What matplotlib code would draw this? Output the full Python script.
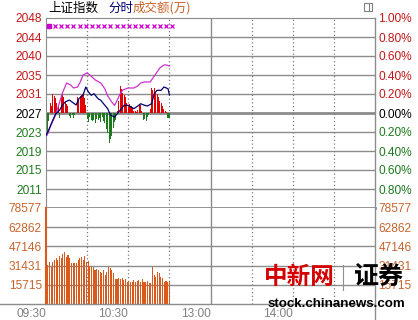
import numpy as np
import matplotlib
matplotlib.use("Agg")
import matplotlib.pyplot as plt
from matplotlib.lines import Line2D
from matplotlib.patches import Rectangle

plt.rcParams['font.family'] = ['Liberation Sans', 'Noto Sans CJK SC', 'DejaVu Sans']

# ---------------- data ----------------
base_close = 2027.4

price_minutes = [0, 2, 5, 7, 10, 12, 14, 17, 19, 22, 24, 27, 29, 31, 33, 35, 38, 40, 42, 45,
                 47, 50, 52, 55, 57, 60, 62, 64, 67, 69, 72, 74, 77, 79, 81, 84, 86, 89, 90]
price_values = [2022.64, 2023.77, 2025.91, 2027.19, 2028.04, 2029.11, 2029.75, 2030.17, 2029.75, 2029.11,
                2030.45, 2031.18, 2032.95, 2031.88, 2031.18, 2031.52, 2030.45, 2030.11, 2029.38, 2028.32,
                2026.97, 2026.55, 2027.25, 2028.32, 2029.04, 2029.04, 2028.68, 2028.32, 2028.89, 2029.38,
                2029.04, 2028.89, 2029.38, 2031.52, 2032.24, 2032.24, 2032.95, 2032.59, 2031.30]

avg_minutes = [1, 3, 7, 10, 12, 15, 18, 20, 23, 25, 27, 30, 32, 36, 40, 43, 45, 48, 50, 52,
               54, 56, 60, 64, 67, 69, 72, 76, 78, 81, 83, 86, 88, 90]
avg_values = [2022.71, 2024.41, 2026.97, 2029.75, 2031.67, 2033.80, 2033.38, 2032.74, 2032.95, 2034.02,
              2035.51, 2035.94, 2035.51, 2034.44, 2033.80, 2032.52, 2031.03, 2029.75, 2029.00, 2030.17,
              2031.45, 2032.31, 2032.74, 2032.74, 2033.16, 2033.80, 2034.02, 2034.02, 2034.87, 2036.15,
              2037.00, 2037.64, 2037.64, 2037.43]

# per-minute strength bars (index points, + red / - green), 09:30 .. 11:00
flow_values = [-4.5, -4.2, -1.7, 2.1, 1.5, 4.0, 3.6, 3.2, 2.1, 1.6,
               -1.0, 3.8, 4.0, 3.5, 2.4, 2.0, 1.5, -0.6, -1.0, -0.4,
               -1.1, -0.5, 0.0, 3.4, 2.9, 3.6, 3.8, 4.05, 3.3, 1.8,
               -1.2, -2.0, -0.9, -1.4, -1.8, -1.5, -2.1, -1.2, -1.6, -1.1,
               -2.0, -0.9, -1.7, -2.2, -3.4, -4.3, -6.4, -5.5, -4.9, -3.2,
               -2.0, -1.4, 0.4, 2.5, 5.76, 5.2, 4.3, 3.9, 3.5, 2.2,
               1.2, 1.9, 1.4, 1.0, 0.4, 0.5, 0.3, 0.6, 1.9, 1.7,
               0.5, -1.6, -1.3, -1.7, -0.8, -0.4, 0.8, 5.3, 5.0, 5.3,
               4.4, 4.0, 3.4, 2.6, 2.2, 1.5, 0.8, 0.4, 0.2, -1.0, -1.07]

volume_values = [72000, 31900, 34400, 30300, 34400, 36000, 37700, 36000, 39300, 37700,
                 40900, 42600, 38500, 40100, 37700, 33600, 33600, 33600, 33600, 36000,
                 37700, 38500, 36000, 39300, 34400, 35200, 31100, 30300, 30300, 27800,
                 28600, 27800, 26200, 25400, 27800, 23700, 26200, 30300, 29500, 27800,
                 25400, 20500, 20500, 21300, 20500, 21300, 19600, 20500, 18000, 18800,
                 18000, 18000, 19600, 18000, 18800, 19600, 18000, 20500, 18000, 18000,
                 18800, 17200, 17200, 30300, 23700, 22100, 26200, 25400, 22100, 21300,
                 18000, 18800, 18000, 18800]

marker_minutes = [2, 6.5, 11, 15.5, 20, 24.5, 29, 33.5, 38, 42.5, 47, 51.5, 56, 60.5, 65,
                  69.5, 74, 78.5, 83, 87.5, 92]
marker_level = 2046.0

left_price_labels = ["2048", "2044", "2040", "2035", "2031", "2027", "2023", "2019", "2015", "2011"]
right_pct_labels = ["1.00%", "0.80%", "0.60%", "0.40%", "0.20%", "0.00%", "0.20%", "0.40%", "0.60%", "0.80%"]
volume_ticks = [15715, 31431, 47146, 62862, 78577]
volume_labels = ["15715", "31431", "47146", "62862", "78577"]
time_labels = ["09:30", "10:30", "13:00", "14:00"]
time_ticks = [0, 60, 120, 180]

# ---------------- style ----------------
RED = '#C41818'
GREEN = '#1E7A1E'
ORANGE_TXT = '#C8642D'
VOL = '#DA5A1E'
GRID = '#8C8C8C'
NAVY = '#000070'
MAG = '#CC33CC'
FS = 8.6

W_PX, H_PX = 418, 320
fig = plt.figure(figsize=(W_PX / 100, H_PX / 100), dpi=100)
fig.patch.set_facecolor('white')

def fx(px):
    return px / W_PX

def fy(py):
    return 1 - py / H_PX

x0, x1 = 46, 375
axp = fig.add_axes([fx(x0), fy(208), fx(x1) - fx(x0), fy(18) - fy(208)])
axv = fig.add_axes([fx(x0), fy(304), fx(x1) - fx(x0), fy(208) - fy(304)])

to_pct = lambda v: (np.asarray(v) / base_close - 1) * 100

# ---- price panel ----
axp.set_xlim(0, 240)
axp.set_ylim(-1, 1)
for k in range(-4, 5):
    axp.axhline(k * 0.2, color=GRID, lw=2.0 if k == 0 else 1.0, zorder=1)
for m in [30, 60, 90, 150, 180, 210]:
    axp.axvline(m, color='#7A7A7A', lw=0.9, ls=(0, (1, 2)), zorder=1)
axp.axvline(120, color=GRID, lw=1.0, zorder=1)

fv = np.asarray(flow_values) / base_close * 100
fm = np.arange(len(flow_values))
axp.bar(fm, np.where(fv > 0, fv, 0), width=0.75, color='#E00000', zorder=2, linewidth=0)
axp.bar(fm, np.where(fv < 0, fv, 0), width=0.75, color=GREEN, zorder=2, linewidth=0)

axp.plot(avg_minutes, to_pct(avg_values), color=MAG, lw=0.9, zorder=3)
axp.plot(price_minutes, to_pct(price_values), color=NAVY, lw=0.9, zorder=4)

mk = to_pct([marker_level])[0]
axp.plot(marker_minutes[:1], [mk], marker='s', color='#CC00CC', ms=3, ls='none', zorder=5)
axp.plot(marker_minutes[1:], [mk] * (len(marker_minutes) - 1), marker='x', color='#CC00CC',
         ms=3, mew=0.9, ls='none', zorder=5)

pct_ticks = [1.0 - 0.2 * i for i in range(10)]
axp.set_yticks(pct_ticks)
axp.set_yticklabels(left_price_labels)
for i, t in enumerate(axp.get_yticklabels()):
    t.set_color(RED if i < 5 else ('black' if i == 5 else GREEN))
axp.tick_params(axis='y', length=0, pad=3, labelsize=FS)
axp.set_xticks([])

axr = axp.twinx()
axr.set_ylim(-1, 1)
axr.set_yticks(pct_ticks)
axr.set_yticklabels(right_pct_labels)
for i, t in enumerate(axr.get_yticklabels()):
    t.set_color(RED if i < 5 else ('black' if i == 5 else GREEN))
axr.tick_params(axis='y', length=0, pad=2.5, labelsize=FS)
for ax in (axp, axr):
    for s in ax.spines.values():
        s.set_visible(False)
axp.spines['top'].set_visible(True)
axp.spines['top'].set_color(GRID)
axp.spines['left'].set_visible(True)
axp.spines['left'].set_color(GRID)
axp.spines['bottom'].set_visible(True)
axp.spines['bottom'].set_color(GRID)
axp.spines['bottom'].set_linewidth(2.0)

# ---- volume panel ----
axv.set_xlim(0, 240)
axv.set_ylim(0, volume_ticks[-1])
for v in volume_ticks[:-1]:
    axv.axhline(v, color=GRID, lw=1.0, zorder=1)
for m in [30, 60, 90, 150, 180, 210]:
    axv.axvline(m, color='#7A7A7A', lw=0.9, ls=(0, (1, 2)), zorder=1)
axv.axvline(120, color=GRID, lw=1.0, zorder=1)
vm = np.linspace(0, 90, len(volume_values))
axv.bar(vm, volume_values, width=0.78, color=VOL, linewidth=0, zorder=2)
axv.set_yticks(volume_ticks)
axv.set_yticklabels(volume_labels)
for t in axv.get_yticklabels():
    t.set_color(ORANGE_TXT)
axv.tick_params(axis='y', length=0, pad=3, labelsize=FS)
axv.set_xticks(time_ticks)
axv.set_xticklabels(time_labels, ha='right')
axv.tick_params(axis='x', length=0, pad=3, labelsize=FS, colors='#808080')
axvr = axv.twinx()
axvr.set_ylim(0, volume_ticks[-1])
axvr.set_yticks(volume_ticks)
axvr.set_yticklabels(volume_labels)
for t in axvr.get_yticklabels():
    t.set_color(ORANGE_TXT)
axvr.tick_params(axis='y', length=0, pad=2.5, labelsize=FS)
for ax in (axv, axvr):
    for s in ax.spines.values():
        s.set_visible(False)
axv.spines['left'].set_visible(True)
axv.spines['left'].set_color(VOL)
axv.spines['left'].set_linewidth(1.5)

# frame lines extending beyond the panels
fig.add_artist(Line2D([fx(375), fx(375)], [0, fy(18)], color=GRID, lw=1.0))
fig.add_artist(Line2D([0, fx(375)], [fy(304), fy(304)], color=GRID, lw=1.0))

# ---- header ----
fig.text(fx(48), fy(8), "上证指数", fontsize=9, color='black', va='center', ha='left',
         family=['Noto Sans CJK SC', 'DejaVu Sans'])
fig.text(fx(108), fy(8), "分时", fontsize=9, color=NAVY, va='center', ha='left',
         family=['Noto Sans CJK SC', 'DejaVu Sans'])
fig.text(fx(133), fy(8), "成交额(万)", fontsize=9, color=ORANGE_TXT, va='center', ha='left',
         family=['Noto Sans CJK SC', 'DejaVu Sans'])
fig.add_artist(Rectangle((fx(364), fy(11)), fx(8), fy(3) - fy(11), fill=False, ec='#808080', lw=0.8))
fig.add_artist(Line2D([fx(369), fx(369)], [fy(11), fy(3)], color='#808080', lw=0.8))

# ---- watermark ----
fig.text(fx(299), fy(277), "中新网", fontsize=17, color='#D40000', fontweight='bold',
         va='center', ha='center', family=['Noto Sans CJK SC', 'DejaVu Sans'], zorder=10)
fig.add_artist(Line2D([fx(343), fx(343)], [fy(290), fy(265)], color='#909090', lw=0.8, zorder=10))
fig.text(fx(379), fy(277), "证券", fontsize=18, color='black', fontweight='bold',
         va='center', ha='center', family=['Noto Sans CJK SC', 'DejaVu Sans'], zorder=10)
fig.text(fx(336), fy(304), "stock.chinanews.com", fontsize=9.6, color='black', fontweight='bold',
         va='center', ha='center', zorder=10)

fig.savefig("out.png", dpi=100, facecolor='white')
